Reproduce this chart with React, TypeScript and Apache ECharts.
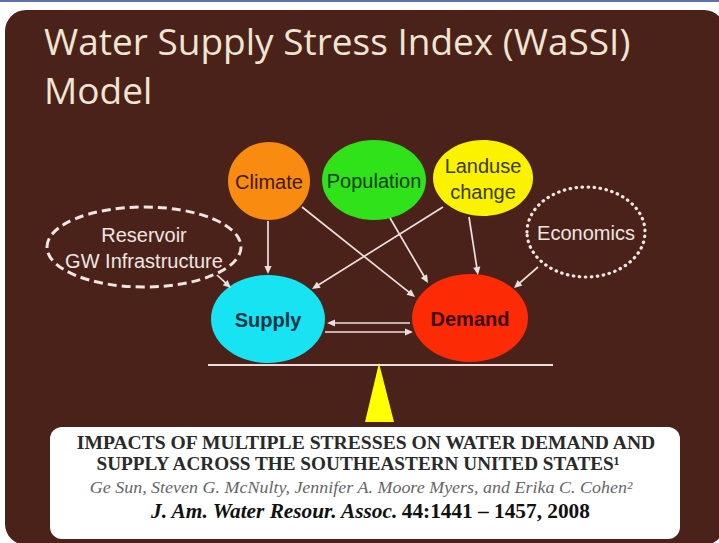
import React, { useEffect, useRef } from "react";
import * as echarts from "echarts";

// ---- content ----
const titleLines = ["Water Supply Stress Index (WaSSI)", "Model"];
const nodeIds = ["climate", "population", "landuse", "economics", "reservoir", "supply", "demand"];
const nodeLabels = ["Climate", "Population", "Landuse\nchange", "Economics", "Reservoir\nGW Infrastructure", "Supply", "Demand"];
const linkFrom = ["climate", "climate", "population", "landuse", "landuse", "economics", "reservoir", "demand", "supply"];
const linkTo = ["supply", "demand", "demand", "supply", "demand", "demand", "supply", "supply", "demand"];
const citationTitle = ["IMPACTS OF MULTIPLE STRESSES ON WATER DEMAND AND", "SUPPLY ACROSS THE SOUTHEASTERN UNITED STATES\u00b9"];
const citationAuthors = "Ge Sun, Steven G. McNulty, Jennifer A. Moore Myers, and Erika C. Cohen\u00b2";
const citationJournal = "J. Am. Water Resour. Assoc.";
const citationRef = "44:1441 \u2013 1457, 2008";

// ---- layout (diagram coordinates, 1 unit = 1 px) ----
const nodeLayout: Record<string, number[]> = {
  climate: [269, 181, 41, 39],
  population: [374, 180, 52, 40],
  landuse: [483, 178, 50, 38],
  economics: [586, 232, 59, 45],
  reservoir: [144, 247, 97, 40],
  supply: [268, 319, 57, 44],
  demand: [470, 318, 58, 44],
};
const linkLayout: number[][] = [
  [268, 221, 268, 274],
  [302, 207, 415, 297],
  [390, 218, 428, 283],
  [443, 207, 312, 289],
  [469, 217, 478, 275],
  [538, 267, 514, 288],
  [217, 275, 231, 288],
  [410, 323, 327, 323],
  [325, 332, 413, 332],
];

// ---- styles ----
const BROWN = "#4a2219";
const LIGHT = "#efe6e2";
const nodeStyle: Record<string, any> = {
  climate: { fill: "#f98b10", text: "#3b1a08", weight: "normal" },
  population: { fill: "#2fe21a", text: "#0c3a0a", weight: "normal" },
  landuse: { fill: "#fbf200", text: "#3b3a10", weight: "normal" },
  economics: { fill: "rgba(0,0,0,0)", stroke: LIGHT, dash: [0.5, 5.5], cap: "round", width: 3.2, text: LIGHT, weight: "normal" },
  reservoir: { fill: "rgba(0,0,0,0)", stroke: LIGHT, dash: [9, 5], cap: "butt", width: 3, text: LIGHT, weight: "normal" },
  supply: { fill: "#17e3f2", text: "#0b3346", weight: "bold" },
  demand: { fill: "#fd2a06", text: "#3a0904", weight: "bold" },
};

export default function App() {
  const ref = useRef<HTMLDivElement>(null);
  useEffect(() => {
    if (!ref.current) return;
    const chart = echarts.init(ref.current, null, { renderer: "svg" });

    const nodeData = nodeIds.map((id, i) => ({
      name: nodeLabels[i],
      value: nodeLayout[id],
    }));
    const linkData = linkFrom.map((f, i) => ({
      name: f + "->" + linkTo[i],
      value: linkLayout[i],
    }));

    const serif = "'Liberation Serif', 'DejaVu Serif', serif";
    const titleFont = "37px 'Open Sans', Lato, sans-serif";

    chart.setOption({
      animation: false,
      backgroundColor: "#ffffff",
      grid: { left: 0, right: 0, top: 0, bottom: 0 },
      xAxis: { type: "value", min: 0, max: 719, show: false },
      yAxis: { type: "value", min: 0, max: 543, inverse: true, show: false },
      graphic: [
        { type: "line", z: 0, shape: { x1: 0, y1: 1, x2: 719, y2: 1 }, style: { stroke: "#2d3f9e", lineWidth: 1.5 } },
        { type: "rect", z: 0, shape: { x: 5, y: 10, width: 720, height: 535, r: 21 }, style: { fill: BROWN } },
        {
          type: "text", z: 1, x: 44, y: 40,
          style: { text: titleLines[0], fill: "#eee5d3", font: titleFont, align: "left", verticalAlign: "middle" },
        },
        {
          type: "text", z: 1, x: 44, y: 89,
          style: { text: titleLines[1], fill: "#eee5d3", font: titleFont, align: "left", verticalAlign: "middle" },
        },
        { type: "line", z: 1, shape: { x1: 208, y1: 365, x2: 553, y2: 365 }, style: { stroke: "#eedede", lineWidth: 2.2 } },
        { type: "polygon", z: 1, shape: { points: [[379, 363], [365, 422], [394, 422]] }, style: { fill: "#ffff00" } },
        { type: "rect", z: 1, shape: { x: 50, y: 427, width: 630, height: 112, r: 12 }, style: { fill: "#ffffff" } },
        {
          type: "text", z: 2, x: 366, y: 443, scaleX: 1.032,
          style: { text: citationTitle[0], fill: "#2a2a2a", font: "bold 19px " + serif, align: "center", verticalAlign: "middle" },
        },
        {
          type: "text", z: 2, x: 358, y: 464, scaleX: 1.012,
          style: { text: citationTitle[1], fill: "#2a2a2a", font: "bold 19px " + serif, align: "center", verticalAlign: "middle" },
        },
        {
          type: "text", z: 2, x: 361, y: 488, scaleX: 1.09,
          style: { text: citationAuthors, fill: "#666666", font: "italic 16.5px " + serif, align: "center", verticalAlign: "middle" },
        },
        {
          type: "text", z: 2, x: 370, y: 511, scaleX: 1.015,
          style: {
            text: "{j|" + citationJournal + "} {r|" + citationRef + "}",
            align: "center", verticalAlign: "middle",
            rich: {
              j: { font: "italic bold 21px " + serif, fill: "#111111" },
              r: { font: "bold 21px " + serif, fill: "#111111" },
            },
          },
        },
      ],
      series: [
        {
          type: "custom",
          name: "nodes",
          coordinateSystem: "cartesian2d",
          z: 3,
          clip: false,
          encode: { x: 0, y: 1 },
          data: nodeData,
          renderItem: (params: any, api: any) => {
            const id = nodeIds[params.dataIndex];
            const st = nodeStyle[id];
            const c = api.coord([api.value(0), api.value(1)]);
            const s = api.size([api.value(2), api.value(3)]);
            const label = nodeLabels[params.dataIndex];
            return {
              type: "group",
              children: [
                {
                  type: "ellipse",
                  shape: { cx: c[0], cy: c[1], rx: s[0], ry: s[1] },
                  style: {
                    fill: st.fill,
                    stroke: st.stroke || null,
                    lineWidth: st.width || 0,
                    lineDash: st.dash || null,
                    lineCap: st.cap || "butt",
                  },
                },
                {
                  type: "text",
                  style: {
                    text: label,
                    x: c[0],
                    y: c[1] + 1,
                    fill: st.text,
                    font: st.weight + " 20px 'Liberation Sans', Arial, sans-serif",
                    align: "center",
                    verticalAlign: "middle",
                    lineHeight: 26,
                  },
                },
              ],
            };
          },
        },
        {
          type: "custom",
          name: "links",
          coordinateSystem: "cartesian2d",
          z: 4,
          clip: false,
          encode: { x: [0, 2], y: [1, 3] },
          data: linkData,
          renderItem: (params: any, api: any) => {
            const p1 = api.coord([api.value(0), api.value(1)]);
            const p2 = api.coord([api.value(2), api.value(3)]);
            const dx = p2[0] - p1[0];
            const dy = p2[1] - p1[1];
            const len = Math.hypot(dx, dy) || 1;
            const ux = dx / len;
            const uy = dy / len;
            const hl = 8;
            const hw = 3.6;
            const bx = p2[0] - ux * hl;
            const by = p2[1] - uy * hl;
            const col = "#ece0de";
            return {
              type: "group",
              children: [
                { type: "line", shape: { x1: p1[0], y1: p1[1], x2: bx + ux * 1, y2: by + uy * 1 }, style: { stroke: col, lineWidth: 1.7 } },
                {
                  type: "polygon",
                  shape: { points: [[p2[0], p2[1]], [bx - uy * hw, by + ux * hw], [bx + uy * hw, by - ux * hw]] },
                  style: { fill: col },
                },
              ],
            };
          },
        },
      ],
    });
    return () => chart.dispose();
  }, []);
  return (
    <div
      ref={ref}
      style={{ position: "fixed", left: 0, top: 0, width: 719, height: 543 }}
    />
  );
}
